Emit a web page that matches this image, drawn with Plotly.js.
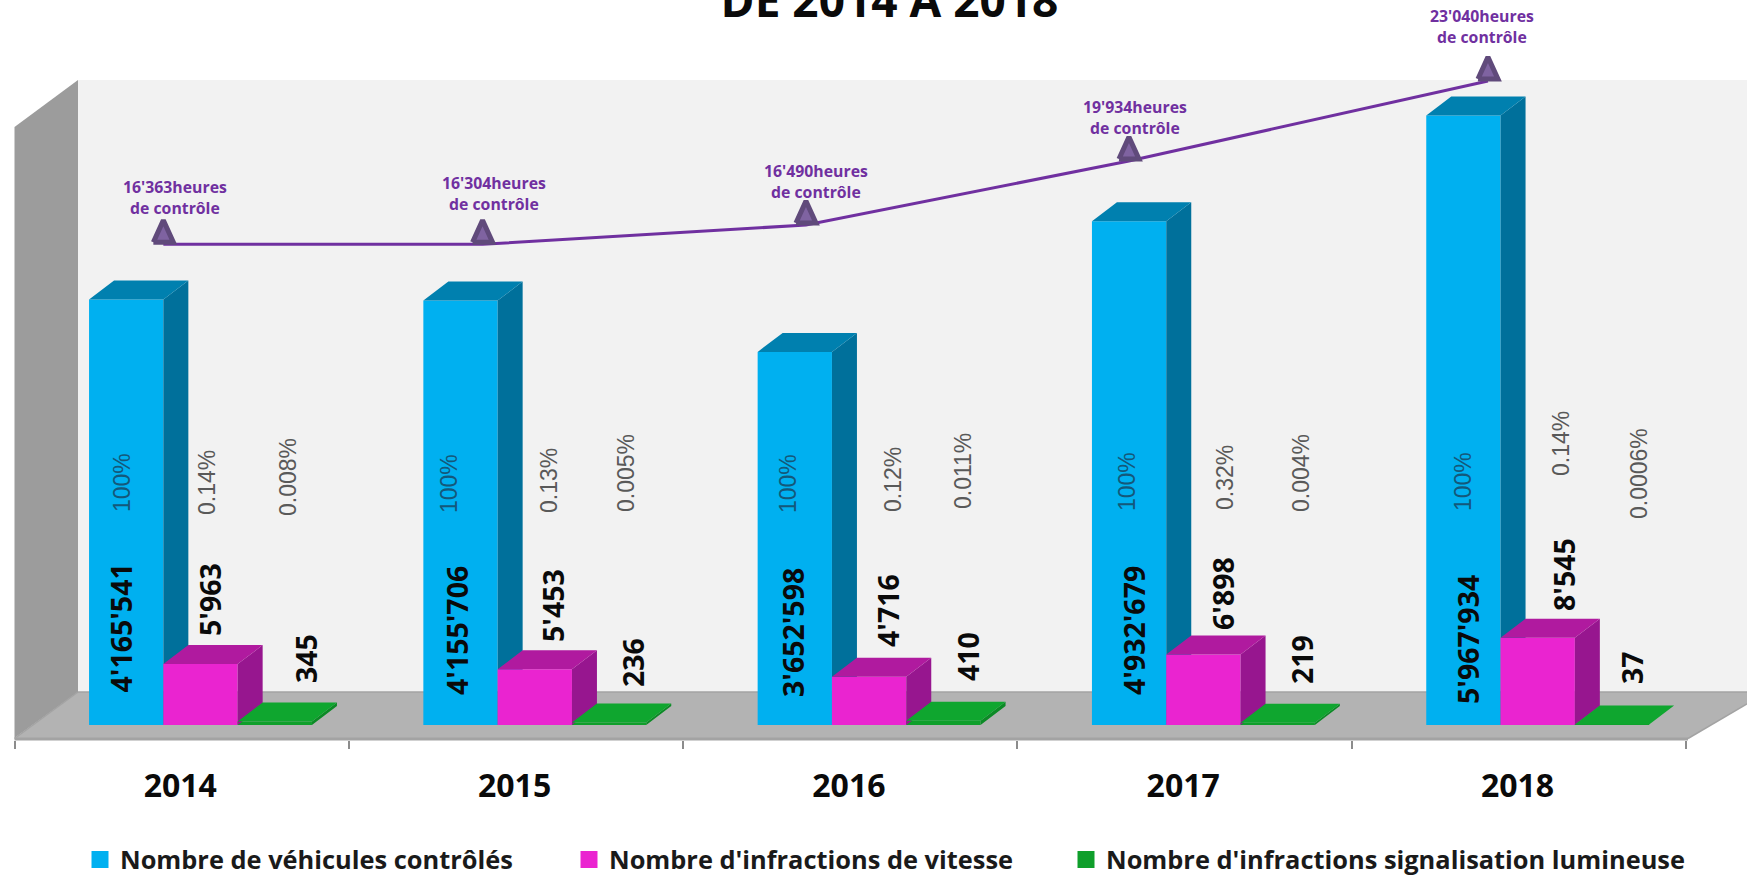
<!DOCTYPE html>
<html>
<head>
<meta charset="utf-8">
<script src="https://cdn.plot.ly/plotly-3.0.1.min.js"></script>
<style>html,body{margin:0;padding:0;background:#fff}#chart{width:1747px;height:877px}</style>
</head>
<body>
<div id="chart"></div>
<script>
// ---- data ----
const years = ["2014", "2015", "2016", "2017", "2018"];
const vehicles = [4165541, 4155706, 3652598, 4932679, 5967934];
const speeding = [5963, 5453, 4716, 6898, 8545];
const redLights = [345, 236, 410, 219, 37];
const hours = [16363, 16304, 16490, 19934, 23040];
// height of the (hand-placed) hours line in the picture, on its own hidden axis
const hoursLineLevel = [16700, 16700, 17450, 19934, 23040];
const pctVehicles = ["100%", "100%", "100%", "100%", "100%"];
const pctSpeeding = ["0.14%", "0.13%", "0.12%", "0.32%", "0.14%"];
const pctRedLights = ["0.008%", "0.005%", "0.011%", "0.004%", "0.0006%"];
const seriesNames = ["Nombre de véhicules contrôlés", "Nombre d'infractions de vitesse", "Nombre d'infractions signalisation lumineuse"];

// ---- layout constants (pixels on the 1747x877 page) ----
const W = 1747, H = 877, plotBottom = 740, baseY = 725;
const catLeft = 14.5, catW = 334.3, barW = 74.3, depthX = 25, depthY = 19, firstBar = -92.6;
const unitsPerPx = 9790;             // vehicles axis; the two infraction series use 1/100 of it
const hoursPerPx = 38.82, hoursRefPx = 81, hoursRef = 23040;
const xAt = px => (px - catLeft) / catW - 0.5;
const yAt = px => (baseY - px) * unitsPerPx;
const dxU = px => px / catW;
const px2 = (x, y) => [x / W, 1 - y / plotBottom];
const xRange = [xAt(0), xAt(W)];
const yRange = [yAt(plotBottom), yAt(0)];
const y2Range = yRange.map(v => v / 100);
const y3At = px => hoursRef + (hoursRefPx - px) * hoursPerPx;
const y3Range = [y3At(plotBottom), y3At(0)];

const colors = {
  blue: ["#00B0F0", "#00709B", "#0080AF"],
  pink: ["#EA24D0", "#97168F", "#B01A9F"],
  green: ["#0F9F2B", "#0C8A26", "#0FA62F"]
};

const idx = years.map((_, i) => i);
const slotOffset = s => dxU(firstBar + s * barW);

function front(values, s, col, axis) {
  return { type: "bar", x: idx, y: values, yaxis: axis, offset: slotOffset(s), width: dxU(barW),
    marker: { color: col, line: { width: 0 } }, showlegend: false, hoverinfo: "y" };
}
function faces(values, s, cols, axis, scale) {
  const sx = [], sy = [], tx = [], ty = [];
  const d = dxU(depthX), w = dxU(barW), dy = depthY * unitsPerPx / scale;
  values.forEach((v, i) => {
    const x0 = i + slotOffset(s), x1 = x0 + w;
    sx.push(x1, x1 + d, x1 + d, x1, x1, null);
    sy.push(0, dy, v + dy, v, 0, null);
    tx.push(x0, x0 + d, x1 + d, x1, x0, null);
    ty.push(v, v + dy, v + dy, v, v, null);
  });
  const poly = (x, y, c) => ({ type: "scatter", mode: "lines", x, y, yaxis: axis, fill: "toself", fillcolor: c,
    line: { width: 0, color: c }, hoverinfo: "skip", showlegend: false });
  return [poly(sx, sy, cols[1]), poly(tx, ty, cols[2])];
}
function legendEntry(name, col, legendId) {
  return { type: "bar", x: [0], y: [null], name, legend: legendId, showlegend: true,
    marker: { color: col, line: { width: 5, color: col } }, hoverinfo: "skip" };
}

// hours line
const lineShift = [-18.3, -33.4, -44.3, -55.6, -30.9];
const lineX = idx.map(i => i + dxU(lineShift[i]));
const triX = [], triY = [];
hoursLineLevel.forEach((v, i) => {
  const hw = dxU(10), b = v + 2 * hoursPerPx, h = 22 * hoursPerPx;
  triX.push(lineX[i] - hw, lineX[i] + hw, lineX[i], lineX[i] - hw, null);
  triY.push(b, b, b + h, b, null);
});

const traces = [
  front(vehicles, 0, colors.blue[0], "y"),
  ...faces(vehicles, 0, colors.blue, "y", 1),
  front(speeding, 1, colors.pink[0], "y2"),
  front(redLights, 2, colors.green[0], "y2"),
  ...faces(speeding, 1, colors.pink, "y2", 100),
  ...faces(redLights, 2, colors.green, "y2", 100),
  { type: "scatter", mode: "lines", x: lineX, y: hoursLineLevel, yaxis: "y3", line: { color: "#7030A0", width: 3 },
    text: hours.map(String), hoverinfo: "text", showlegend: false },
  { type: "scatter", mode: "lines", x: triX, y: triY, yaxis: "y3", fill: "toself", fillcolor: "#7F63A1",
    line: { color: "#604A7B", width: 5 }, hoverinfo: "skip", showlegend: false },
  legendEntry(seriesNames[0], colors.blue[0], "legend"),
  legendEntry(seriesNames[1], colors.pink[0], "legend2"),
  legendEntry(seriesNames[2], colors.green[0], "legend3")
];

// ---- text ----
const fmt = n => String(n).replace(/\B(?=(\d{3})+(?!\d))/g, "'");
const bold = "'Open Sans', sans-serif";
const thin = "'Liberation Sans', Arial, sans-serif";
const rot = (text, x, y, size, color, family, weight) => ({
  text, x: x / W, y: 1 - y / plotBottom, xref: "paper", yref: "paper", textangle: -90, showarrow: false,
  xanchor: "center", yanchor: "middle", font: { size, color, family, weight }
});
const vehLabelX = [120.5, 457, 793, 1134, 1468], vehLabelY = [628, 631, 633, 631, 640];
const spdLabelX = [210, 553, 888, 1223, 1564], spdLabelY = [600, 606, 611, 594, 575];
const redLabelX = [306, 633, 968, 1302, 1632], redLabelY = [659, 663, 657, 660, 668];
const pvX = [122, 449, 788, 1127, 1463], pvY = [483, 484, 484, 482, 482];
const psX = [207, 549, 893, 1225, 1561], psY = [483, 481, 479, 478, 444];
const prX = [288, 626, 963, 1301, 1639], prY = [477, 473, 471, 473, 474];
const hourLabelX = [175, 494, 816, 1135, 1481.5], hourLabelY = [197, 193, 181, 117, 26.5];

const annotations = [];
idx.forEach(i => {
  annotations.push(rot(fmt(vehicles[i]), vehLabelX[i], vehLabelY[i], 28.5, "#0a0a0a", bold, 700));
  annotations.push(rot(fmt(speeding[i]), spdLabelX[i], spdLabelY[i], 28.5, "#0a0a0a", bold, 700));
  annotations.push(rot(fmt(redLights[i]), redLabelX[i], redLabelY[i], 28.5, "#0a0a0a", bold, 700));
  annotations.push(rot(pctVehicles[i], pvX[i], pvY[i], 23, "#14587a", thin, 400));
  annotations.push(rot(pctSpeeding[i], psX[i], psY[i], 23, "#595959", thin, 400));
  annotations.push(rot(pctRedLights[i], prX[i], prY[i], 23, "#595959", thin, 400));
  annotations.push({
    text: fmt(hours[i]) + "heures<br>de contrôle", x: hourLabelX[i] / W, y: 1 - hourLabelY[i] / plotBottom,
    xref: "paper", yref: "paper", showarrow: false, xanchor: "center", yanchor: "middle", align: "center",
    font: { size: 15.8, color: "#7030A0", family: bold, weight: 700 }
  });
});

// ---- 3D box behind the bars ----
const pathOf = (pts, closed) => pts.map((p, i) => {
  const q = px2(p[0], p[1]);
  return (i ? "L" : "M") + q[0] + "," + q[1];
}).join(" ") + (closed ? " Z" : "");
const paperShape = (pts, fill) => ({ type: "path", xref: "paper", yref: "paper", layer: "below", path: pathOf(pts, true),
  fillcolor: fill, line: { width: 0 } });
const edge = (pts, width) => ({ type: "path", xref: "paper", yref: "paper", layer: "below", path: pathOf(pts, false),
  fillcolor: "rgba(0,0,0,0)", line: { color: "#A3A3A3", width } });
const shapes = [
  paperShape([[78, 80], [W, 80], [W, 692], [78, 692]], "#F2F2F2"),
  paperShape([[14.5, 127], [78, 80], [78, 692], [14.5, 738]], "#9C9C9C"),
  paperShape([[14.5, 738.5], [78, 692], [W + 20, 692], [1688, 738.5]], "#B3B3B3"),
  edge([[78, 692], [W + 20, 692]], 1.5),
  edge([[14.5, 738.5], [78, 692]], 1.5),
  edge([[1688, 738.5], [W + 20, 692]], 1.5),
  edge([[14.5, 739], [1688, 739]], 3)
];

const legendBase = {
  orientation: "h", xanchor: "left", y: 1 - 836.5 / plotBottom, yanchor: "top", bgcolor: "rgba(0,0,0,0)",
  font: { size: 25.4, family: bold, weight: 700, color: "#1a1a1a" }, itemclick: false, itemdoubleclick: false
};

const layout = {
  width: W, height: H,
  margin: { l: 0, r: 0, t: 0, b: H - plotBottom, pad: 0, autoexpand: false },
  paper_bgcolor: "#fff", plot_bgcolor: "rgba(0,0,0,0)",
  barmode: "overlay",
  title: { text: "DE 2014 À 2018", x: 889.5 / W, xanchor: "center", yref: "container", y: 1 - 17 / H, yanchor: "bottom",
    font: { size: 46, family: bold, weight: 700, color: "#0a0a0a" }, pad: { t: 0, b: 0 } },
  xaxis: {
    type: "linear", range: xRange, showgrid: false, zeroline: false, showline: false, fixedrange: true,
    tickmode: "array", tickvals: idx.map(i => i - 0.004), ticktext: years, ticks: "", ticklabelstandoff: 24,
    tickfont: { size: 32, family: bold, weight: 700, color: "#0a0a0a" },
    minor: { tickmode: "array", tickvals: [-0.5, 0.5, 1.5, 2.5, 3.5, 4.5], ticks: "outside", ticklen: 8, tickwidth: 2, tickcolor: "#8c8c8c", showgrid: false }
  },
  yaxis: { range: yRange, visible: false, fixedrange: true },
  yaxis2: { range: y2Range, visible: false, overlaying: "y", fixedrange: true },
  yaxis3: { range: y3Range, visible: false, overlaying: "y", fixedrange: true },
  showlegend: true,
  legend: Object.assign({}, legendBase, { x: 80 / W }),
  legend2: Object.assign({}, legendBase, { x: 569 / W }),
  legend3: Object.assign({}, legendBase, { x: 1066 / W }),
  shapes, annotations
};

Plotly.newPlot("chart", traces, layout, { displayModeBar: false, responsive: false });
</script>
</body>
</html>
